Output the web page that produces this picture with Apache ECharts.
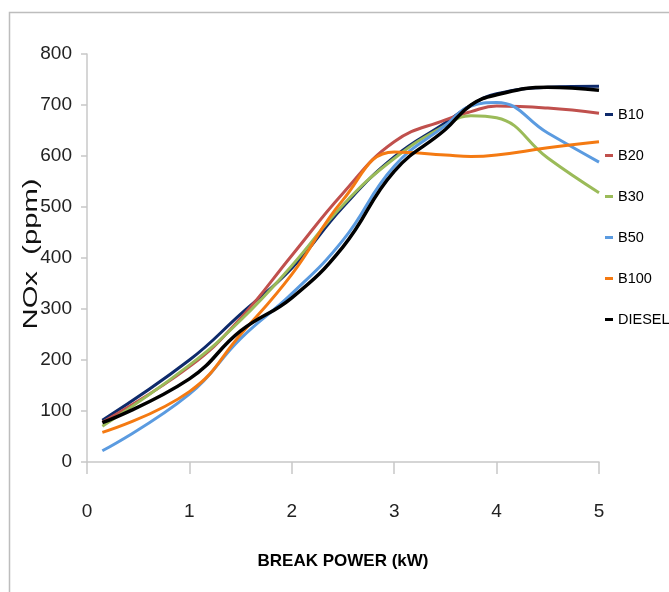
<!DOCTYPE html>
<html>
<head>
<meta charset="utf-8">
<script src="https://cdn.jsdelivr.net/npm/echarts@6/dist/echarts.min.js"></script>
<style>
html,body{margin:0;padding:0;background:#fff;}
#chart{width:669px;height:592px;}
</style>
</head>
<body>
<div id="chart"></div>
<script>
// Break power (kW) positions
const power = [0.15, 1, 1.5, 2, 2.5, 3, 3.5, 3.75, 4, 4.5, 5];
const seriesNames = ['B10', 'B20', 'B30', 'B50', 'B100', 'DIESEL'];
const B10    = [82, 200, 290, 380, 500, 598, 665, 700, 722, 735, 737];
const B20    = [78, 187, 282, 405, 527, 628, 671, 687, 698, 694, 684];
const B30    = [70, 190, 278, 385, 504, 595, 660, 679, 675, 596, 528];
const B50    = [22, 133, 242, 330, 435, 580, 660, 698, 705, 645, 588];
const B100   = [58, 138, 250, 368, 514, 608, 602, 599, 602, 616, 628];
const DIESEL = [77, 163, 257, 322, 422, 570, 652, 700, 720, 735, 729];
const xTicks = [0, 1, 2, 3, 4, 5];
const yTicks = [0, 100, 200, 300, 400, 500, 600, 700, 800];

const values = [B10, B20, B30, B50, B100, DIESEL];
const colors = ['#0E2A6B', '#C0504D', '#9BBB59', '#5B9BE0', '#F47A12', '#000000'];
const font = "'Liberation Sans', Arial, sans-serif";

const chart = echarts.init(document.getElementById('chart'), null, {renderer: 'canvas'});
chart.setOption({
  animation: false,
  backgroundColor: '#fff',
  grid: {left: 87, right: 70, top: 54, bottom: 130, containLabel: false},
  xAxis: {
    type: 'value',
    min: xTicks[0], max: xTicks[xTicks.length - 1], interval: 1,
    name: 'BREAK POWER (kW)',
    nameLocation: 'middle',
    nameGap: 91,
    nameTextStyle: {fontFamily: font, fontSize: 17, fontWeight: 'bold', color: '#000'},
    axisLine: {lineStyle: {color: '#C8C8C8', width: 1.5}},
    axisTick: {show: true, length: 12, lineStyle: {color: '#C8C8C8', width: 1.5}},
    axisLabel: {fontFamily: font, fontSize: 19, color: '#222', margin: 40},
    splitLine: {show: false}
  },
  yAxis: {
    type: 'value',
    min: yTicks[0], max: yTicks[yTicks.length - 1], interval: 100,
    axisLine: {show: true, lineStyle: {color: '#C8C8C8', width: 1.5}},
    axisTick: {show: true, length: 6, lineStyle: {color: '#C8C8C8', width: 1.5}},
    axisLabel: {fontFamily: font, fontSize: 19, color: '#222', margin: 15},
    splitLine: {show: false}
  },
  legend: {
    orient: 'vertical',
    left: 605,
    top: 107,
    padding: 0,
    itemGap: 26,
    itemWidth: 8,
    itemHeight: 3,
    icon: 'rect',
    textStyle: {fontFamily: font, fontSize: 14.5, color: '#000'},
    data: seriesNames
  },
  graphic: [
    {type: 'rect', shape: {x: 9.5, y: 12.5, width: 700, height: 640}, style: {fill: 'none', stroke: '#BDBDBD', lineWidth: 1.5}, silent: true, z: -1},
    {type: 'text', x: 31, y: 254, rotation: Math.PI / 2, scaleX: 1.39, scaleY: 1,
     style: {text: 'NOx  (ppm)', fontFamily: font, fontSize: 21, fill: '#111', align: 'center', verticalAlign: 'middle'}}
  ],
  series: seriesNames.map((name, i) => ({
    name: name,
    type: 'line',
    smooth: 0.45,
    showSymbol: false,
    symbol: 'none',
    color: colors[i],
    lineStyle: {width: name === 'DIESEL' ? 3.5 : 3, color: colors[i]},
    z: 2 + i,
    data: power.map((p, j) => [p, values[i][j]])
  }))
});
</script>
</body>
</html>
